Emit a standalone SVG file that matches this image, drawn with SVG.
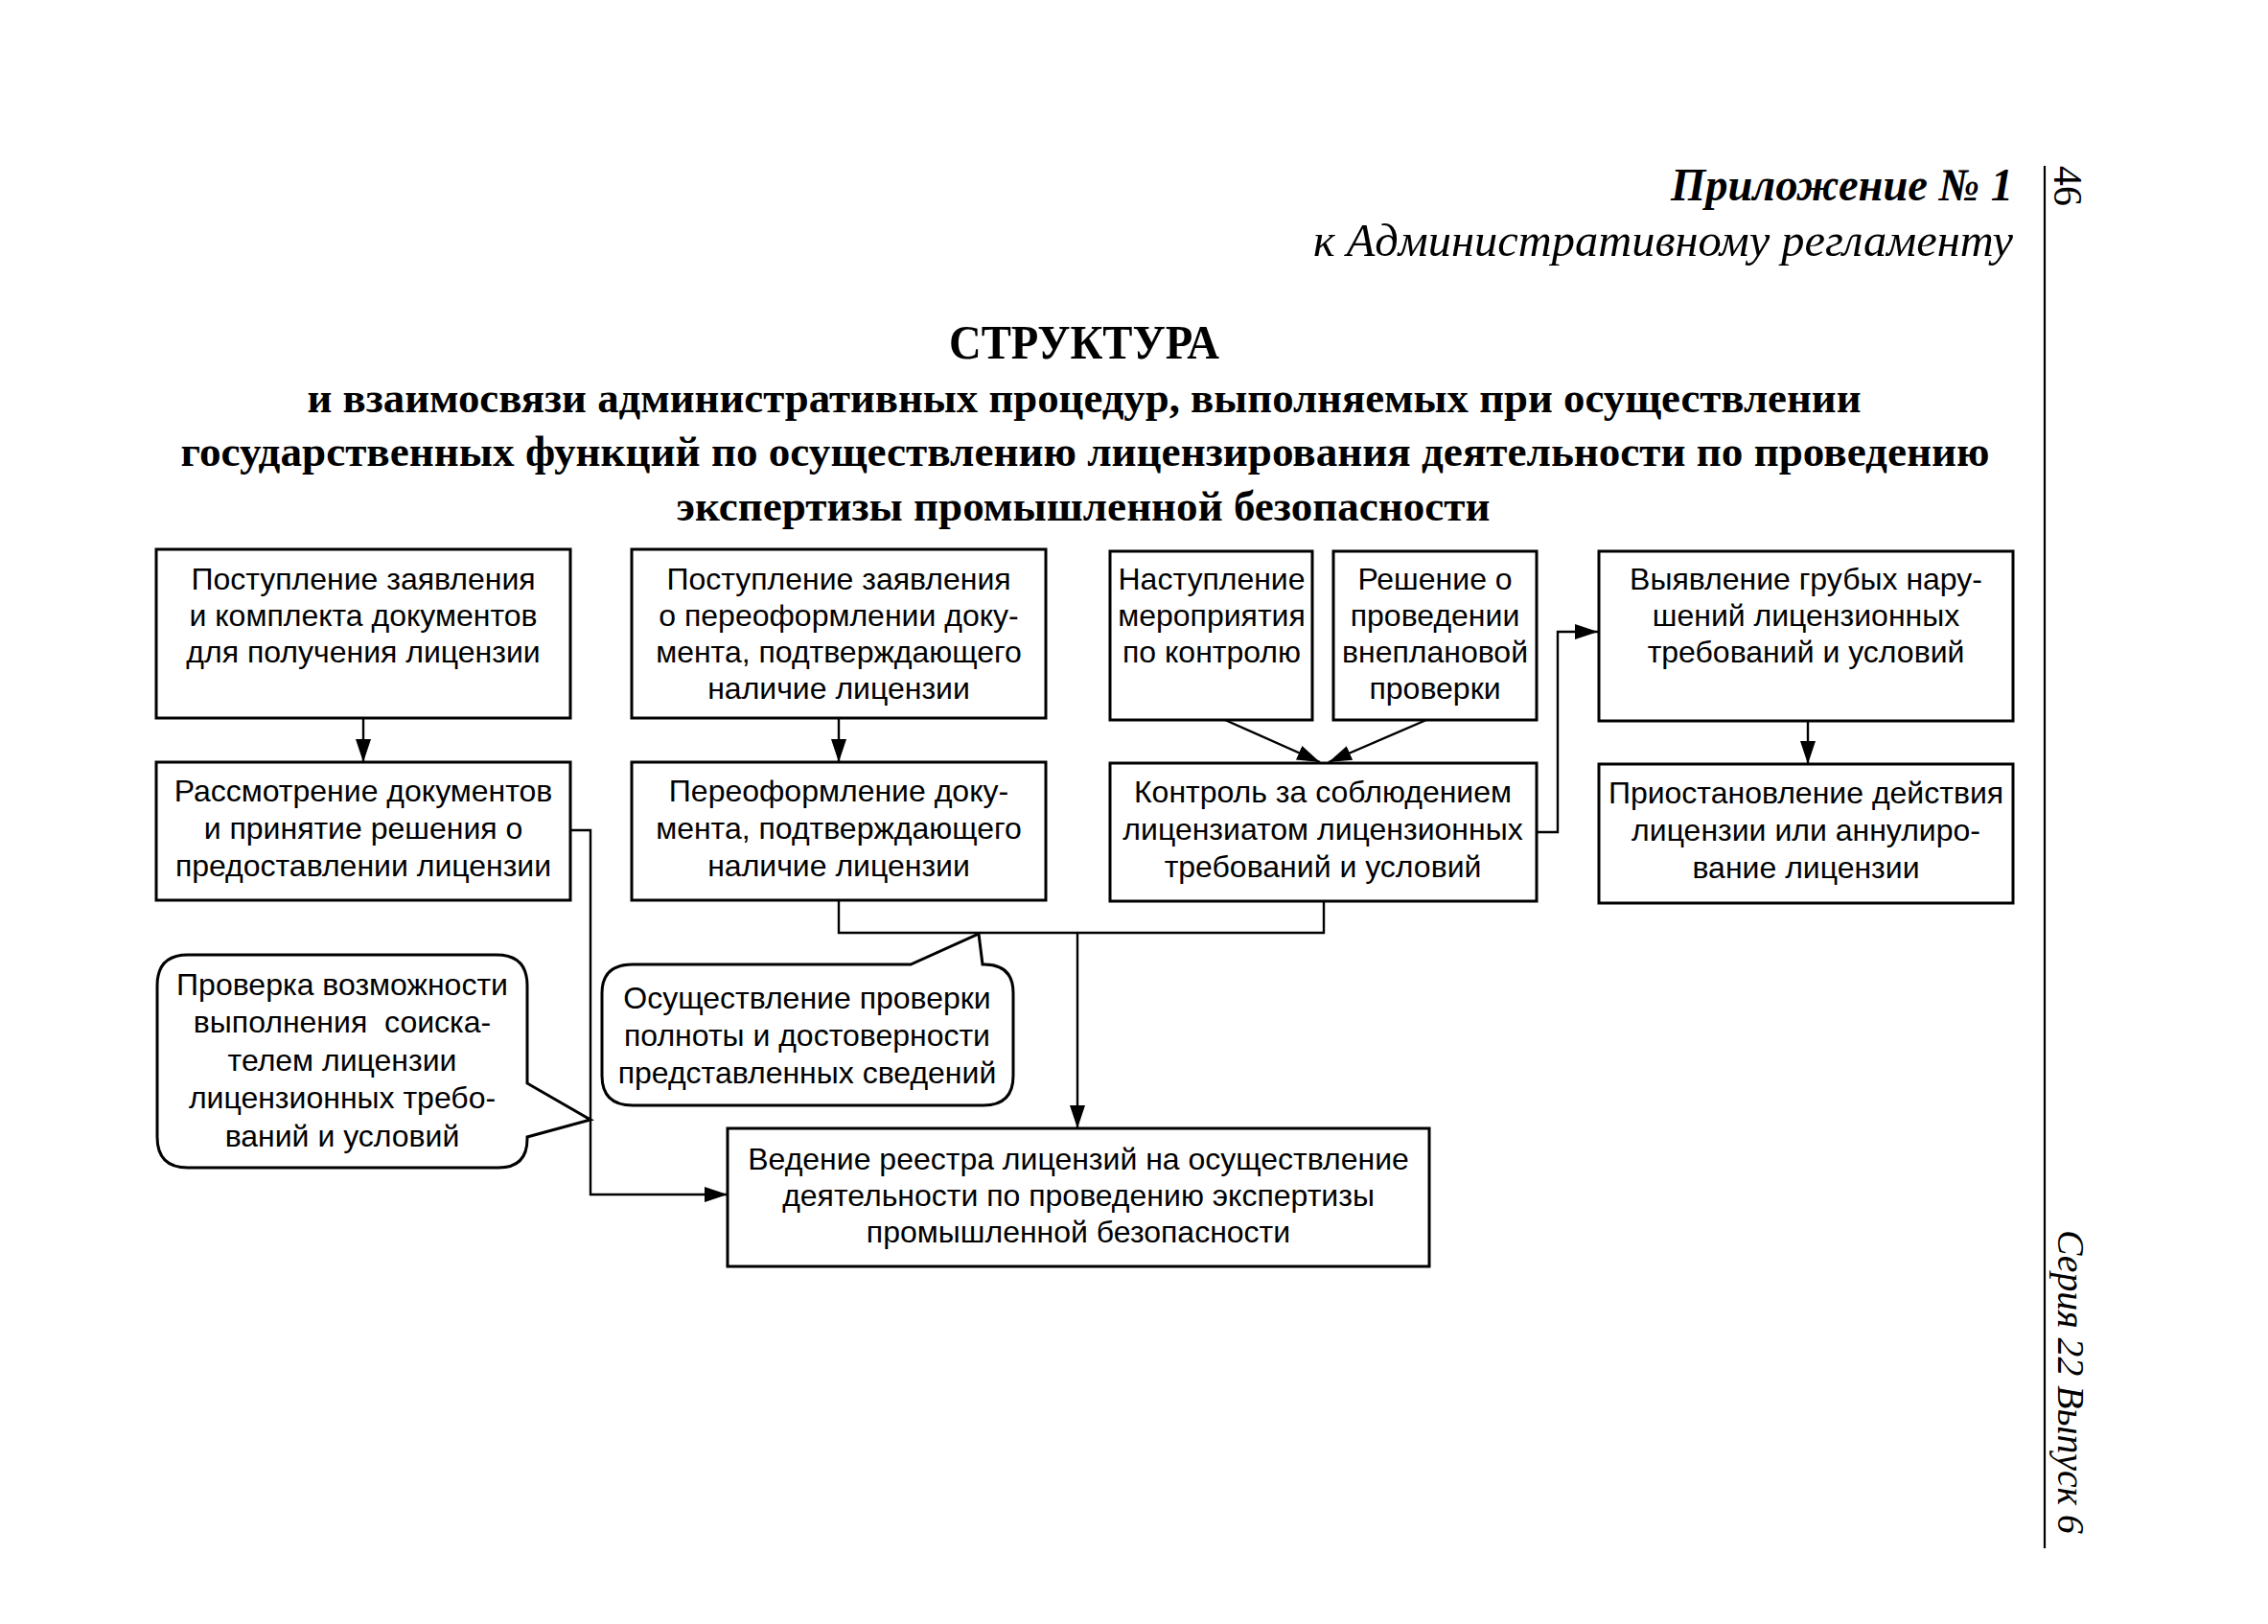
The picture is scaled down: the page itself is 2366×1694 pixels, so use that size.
<svg xmlns="http://www.w3.org/2000/svg" width="2366" height="1694" viewBox="0 0 2366 1694">
<style>
.box{fill:#fff;stroke:#000;stroke-width:3}
.t{font-family:"Liberation Sans","Arial",sans-serif;font-size:32px;fill:#000;text-anchor:middle}
.ln{fill:none;stroke:#000;stroke-width:2.4}
.hd{font-family:"Liberation Serif","Times New Roman",serif;fill:#000}
</style>
<defs>
<marker id="ah" viewBox="0 0 24 16" refX="24" refY="8" markerWidth="24" markerHeight="16" markerUnits="userSpaceOnUse" orient="auto">
<path d="M0,0 L24,8 L0,16 Z" fill="#000"/>
</marker>
</defs>
<rect width="2366" height="1694" fill="#fff"/>

<g id="header">
<text class="hd" x="2100" y="209" font-size="48" font-weight="bold" font-style="italic" text-anchor="end" textLength="357" lengthAdjust="spacingAndGlyphs">Приложение № 1</text>
<text class="hd" x="2100" y="267" font-size="48" font-style="italic" text-anchor="end" textLength="730" lengthAdjust="spacingAndGlyphs">к Административному регламенту</text>
<line x1="2133" y1="173" x2="2133" y2="1615" stroke="#000" stroke-width="2.2"/>
<text class="hd" transform="translate(2143,173) rotate(90)" font-size="42">46</text>
<text class="hd" transform="translate(2147,1283) rotate(90)" font-size="40" font-style="italic" textLength="317" lengthAdjust="spacingAndGlyphs">Серия 22 Выпуск 6</text>
</g>

<g id="title" class="hd" font-weight="bold" text-anchor="middle">
<text x="1131" y="374" font-size="50" textLength="282" lengthAdjust="spacingAndGlyphs">СТРУКТУРА</text>
<text x="1131" y="430" font-size="45" textLength="1621" lengthAdjust="spacingAndGlyphs">и взаимосвязи административных процедур, выполняемых при осуществлении</text>
<text x="1132" y="486" font-size="45" textLength="1887" lengthAdjust="spacingAndGlyphs">государственных функций по осуществлению лицензирования деятельности по проведению</text>
<text x="1130" y="543" font-size="45" textLength="849" lengthAdjust="spacingAndGlyphs">экспертизы промышленной безопасности</text>
</g>

<g id="connectors">
<line class="ln" x1="379" y1="749" x2="379" y2="795" marker-end="url(#ah)"/>
<line class="ln" x1="875" y1="749" x2="875" y2="795" marker-end="url(#ah)"/>
<line class="ln" x1="1278" y1="751" x2="1377" y2="795" marker-end="url(#ah)"/>
<line class="ln" x1="1488" y1="751" x2="1386" y2="795" marker-end="url(#ah)"/>
<line class="ln" x1="1886" y1="752" x2="1886" y2="797" marker-end="url(#ah)"/>
<polyline class="ln" points="1603,868 1625,868 1625,659 1667,659" marker-end="url(#ah)"/>
<polyline class="ln" points="595,866 616,866 616,1246 759,1246" marker-end="url(#ah)"/>
<polyline class="ln" points="875,939 875,973 1381,973 1381,939"/>
<line class="ln" x1="1124" y1="973" x2="1124" y2="1177" marker-end="url(#ah)"/>
</g>

<g id="n1">
<rect class="box" x="163" y="573" width="432" height="176"/>
<text class="t" x="379" y="615">Поступление заявления</text>
<text class="t" x="379" y="653">и комплекта документов</text>
<text class="t" x="379" y="691">для получения лицензии</text>
</g>
<g id="n2">
<rect class="box" x="659" y="573" width="432" height="176"/>
<text class="t" x="875" y="615">Поступление заявления</text>
<text class="t" x="875" y="653">о переоформлении доку-</text>
<text class="t" x="875" y="691">мента, подтверждающего</text>
<text class="t" x="875" y="729">наличие лицензии</text>
</g>
<g id="n3">
<rect class="box" x="1158" y="575" width="211" height="176"/>
<text class="t" x="1264" y="615">Наступление</text>
<text class="t" x="1264" y="653">мероприятия</text>
<text class="t" x="1264" y="691">по контролю</text>
</g>
<g id="n4">
<rect class="box" x="1391" y="575" width="212" height="176"/>
<text class="t" x="1497" y="615">Решение о</text>
<text class="t" x="1497" y="653">проведении</text>
<text class="t" x="1497" y="691">внеплановой</text>
<text class="t" x="1497" y="729">проверки</text>
</g>
<g id="n5">
<rect class="box" x="1668" y="575" width="432" height="177"/>
<text class="t" x="1884" y="615">Выявление грубых нару-</text>
<text class="t" x="1884" y="653">шений лицензионных</text>
<text class="t" x="1884" y="691">требований и условий</text>
</g>
<g id="n6">
<rect class="box" x="163" y="795" width="432" height="144"/>
<text class="t" x="379" y="836">Рассмотрение документов</text>
<text class="t" x="379" y="875">и принятие решения о</text>
<text class="t" x="379" y="914">предоставлении лицензии</text>
</g>
<g id="n7">
<rect class="box" x="659" y="795" width="432" height="144"/>
<text class="t" x="875" y="836">Переоформление доку-</text>
<text class="t" x="875" y="875">мента, подтверждающего</text>
<text class="t" x="875" y="914">наличие лицензии</text>
</g>
<g id="n8">
<rect class="box" x="1158" y="796" width="445" height="144"/>
<text class="t" x="1380" y="837">Контроль за соблюдением</text>
<text class="t" x="1380" y="876">лицензиатом лицензионных</text>
<text class="t" x="1380" y="915">требований и условий</text>
</g>
<g id="n9">
<rect class="box" x="1668" y="797" width="432" height="145"/>
<text class="t" x="1884" y="838">Приостановление действия</text>
<text class="t" x="1884" y="877">лицензии или аннулиро-</text>
<text class="t" x="1884" y="916">вание лицензии</text>
</g>
<g id="n10">
<rect class="box" x="759" y="1177" width="732" height="144"/>
<text class="t" x="1125" y="1220">Ведение реестра лицензий на осуществление</text>
<text class="t" x="1125" y="1258">деятельности по проведению экспертизы</text>
<text class="t" x="1125" y="1296">промышленной безопасности</text>
</g>
<g id="c1">
<path class="box" d="M196,996 H518 Q550,996 550,1028 V1130 L616,1168 L550,1186 V1188 Q550,1218 520,1218 H196 Q164,1218 164,1186 V1028 Q164,996 196,996 Z"/>
<text class="t" x="357" y="1038">Проверка возможности</text>
<text class="t" x="357" y="1077">выполнения&#160; соиска-</text>
<text class="t" x="357" y="1117">телем лицензии</text>
<text class="t" x="357" y="1156">лицензионных требо-</text>
<text class="t" x="357" y="1196">ваний и условий</text>
</g>
<g id="c2">
<path class="box" d="M660,1006 H950 L1021,974 L1025,1006 H1027 Q1057,1006 1057,1036 V1122 Q1057,1153 1026,1153 H660 Q628,1153 628,1122 V1036 Q628,1006 660,1006 Z"/>
<text class="t" x="842" y="1052">Осуществление проверки</text>
<text class="t" x="842" y="1091">полноты и достоверности</text>
<text class="t" x="842" y="1130">представленных сведений</text>
</g>
</svg>
